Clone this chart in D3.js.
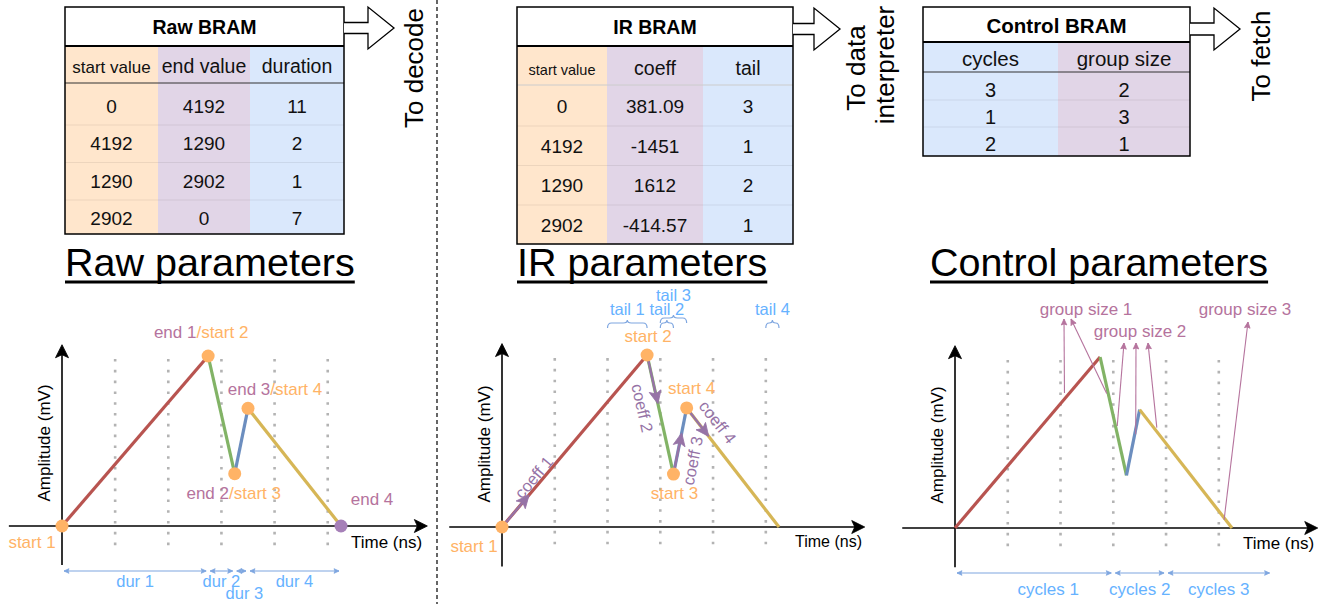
<!DOCTYPE html>
<html><head><meta charset="utf-8">
<script src="https://cdn.jsdelivr.net/npm/d3@7"></script>
<style>
body{margin:0;background:#fff}
svg{display:block;font-family:"Liberation Sans",Arial,Helvetica,sans-serif}
</style>
</head><body>
<svg id="c" width="1328" height="604"></svg>
<script>
// ---------------- data ----------------
const startValues = [0, 4192, 1290, 2902];
const endValues   = [4192, 1290, 2902, 0];
const durations   = [11, 2, 1, 7];
const coeffs      = [381.09, -1451, 1612, -414.57];
const tails       = [3, 1, 2, 1];
const cycles      = [3, 1, 2];
const groupSizes  = [2, 3, 1];
const samplesPerCycle = 4;
const gridCycles  = [1, 2, 3, 4, 5];
const rawHeaders  = ["start value", "end value", "duration"];
const irHeaders   = ["start value", "coeff", "tail"];
const ctrlHeaders = ["cycles", "group size"];
const groupPointerTimes = [[8.3, 11.5], [12.3, 13.7, 15.3], [20.4]];
const panelTitles = ["Raw parameters", "IR parameters", "Control parameters"];
const tableTitles = ["Raw BRAM", "IR BRAM", "Control BRAM"];
const exitLabels  = [["To decode"], ["To data", "interpreter"], ["To fetch"]];

// ---------------- style ----------------
const C = {
  red: "#b85450", green: "#82b366", blue: "#6c8ebf", yellow: "#d6b656",
  orange: "#FFB366", purpleText: "#B5739D", purpleDot: "#A680B8",
  coeff: "#9673A6", blueText: "#66B2FF", blueLine: "#7EA6E0",
  grid: "#B3B3B3", fillO: "#FFE6CC", fillP: "#E1D5E7", fillB: "#DAE8FC"
};
const segColors = [C.red, C.green, C.blue, C.yellow];

const svg = d3.select("#c");

// derived times
const t0 = [], t1 = [];
durations.reduce((acc, d, i) => { t0.push(acc); t1.push(acc + d); return acc + d; }, 0);
const totalTime = t1[t1.length - 1];
function ampAt(t) {
  for (let i = 0; i < durations.length; i++) {
    if (t <= t1[i]) return startValues[i] + (t - t0[i]) / durations[i] * (endValues[i] - startValues[i]);
  }
  return endValues[endValues.length - 1];
}

// ---------------- helpers ----------------
function head(g, tip, ang, len, hw, notch, color) {
  g.append("path")
    .attr("d", `M0,0 L${-len},${-hw} L${-len + notch},0 L${-len},${hw} Z`)
    .attr("transform", `translate(${tip[0]},${tip[1]}) rotate(${ang * 180 / Math.PI})`)
    .attr("fill", color).attr("stroke", color).attr("stroke-width", 0.8);
}
function dblArrow(g, xa, xb, y, color) {
  g.append("line").attr("x1", xa).attr("x2", xb).attr("y1", y).attr("y2", y)
    .attr("stroke", color).attr("stroke-width", 1.1);
  head(g, [xb, y], 0, 5, 2.3, 1, color);
  head(g, [xa, y], Math.PI, 5, 2.3, 1, color);
}

// ---------------- tables ----------------
function drawTable(cfg) {
  const g = svg.append("g");
  const xs = cfg.cols;
  const x0 = xs[0], x1 = xs[xs.length - 1];
  // column fills
  for (let c = 0; c < xs.length - 1; c++) {
    g.append("rect").attr("x", xs[c]).attr("y", cfg.titleBottom)
      .attr("width", xs[c + 1] - xs[c]).attr("height", cfg.bottom - cfg.titleBottom)
      .attr("fill", cfg.fills[c]);
  }
  // header line
  g.append("line").attr("x1", x0).attr("x2", x1).attr("y1", cfg.headerBottom).attr("y2", cfg.headerBottom)
    .attr("stroke", cfg.headerLine).attr("stroke-width", 1);
  // row separators
  cfg.rows.forEach((r, i) => {
    if (i === cfg.rows.length - 1) return;
    const yy = cfg.rowBase + i * cfg.rowStep + cfg.sepOff;
    g.append("line").attr("x1", x0).attr("x2", x1).attr("y1", yy).attr("y2", yy)
      .attr("stroke", "rgba(0,0,0,0.07)").attr("stroke-width", 1);
  });
  // title box
  g.append("rect").attr("x", x0).attr("y", cfg.top).attr("width", x1 - x0)
    .attr("height", cfg.titleBottom - cfg.top).attr("fill", "#fff");
  g.append("line").attr("x1", x0).attr("x2", x1).attr("y1", cfg.titleBottom).attr("y2", cfg.titleBottom)
    .attr("stroke", "#000").attr("stroke-width", 1.8);
  g.append("rect").attr("x", x0).attr("y", cfg.top).attr("width", x1 - x0)
    .attr("height", cfg.bottom - cfg.top).attr("fill", "none").attr("stroke", "#000").attr("stroke-width", 1.5);
  g.append("text").attr("x", (x0 + x1) / 2).attr("y", cfg.titleBase).attr("text-anchor", "middle")
    .attr("font-weight", "bold").attr("font-size", cfg.titleFont).text(cfg.title);
  cfg.headers.forEach((h, c) => {
    g.append("text").attr("x", (xs[c] + xs[c + 1]) / 2).attr("y", cfg.headerBase)
      .attr("text-anchor", "middle").attr("font-size", cfg.headerFonts[c]).attr("fill", "#111").text(h);
  });
  cfg.rows.forEach((r, i) => {
    r.forEach((v, c) => {
      g.append("text").attr("x", (xs[c] + xs[c + 1]) / 2).attr("y", cfg.rowBase + i * cfg.rowStep)
        .attr("text-anchor", "middle").attr("font-size", cfg.rowFont).attr("fill", "#111").text(String(v));
    });
  });
  // block arrow
  const a = cfg.arrow;
  const sy0 = a.cy - a.shaft / 2, sy1 = a.cy + a.shaft / 2;
  g.append("path")
    .attr("d", `M${x1},${sy0} L${a.hx},${sy0} L${a.hx},${a.cy - a.hh} L${a.tip},${a.cy} L${a.hx},${a.cy + a.hh} L${a.hx},${sy1} L${x1},${sy1}`)
    .attr("fill", "#fff").attr("stroke", "#000").attr("stroke-width", 1.3);
  // rotated exit labels
  cfg.exit.forEach((txt, k) => {
    g.append("text").attr("transform", `translate(${cfg.exitX[k]},${cfg.exitY[k]}) rotate(-90)`)
      .attr("text-anchor", "middle").attr("font-size", 26).attr("fill", "#000").text(txt);
  });
}

drawTable({
  cols: [65, 158, 250, 344], top: 7, titleBottom: 46, headerBottom: 83, bottom: 234,
  fills: [C.fillO, C.fillP, C.fillB], headerLine: "#333",
  title: tableTitles[0], titleFont: 19.5, titleBase: 34,
  headers: rawHeaders, headerFonts: [17, 19.5, 19.5], headerBase: 73,
  rows: startValues.map((s, i) => [s, endValues[i], durations[i]]),
  rowBase: 112.5, rowStep: 37.5, sepOff: 12.5, rowFont: 19,
  arrow: { cy: 28, shaft: 11, hx: 368, hh: 21, tip: 394 },
  exit: exitLabels[0], exitX: [423], exitY: [68]
});
drawTable({
  cols: [517, 607, 703, 793], top: 7, titleBottom: 46, headerBottom: 85, bottom: 244,
  fills: [C.fillO, C.fillP, C.fillB], headerLine: "#ccc",
  title: tableTitles[1], titleFont: 19.5, titleBase: 34,
  headers: irHeaders, headerFonts: [14.5, 19.5, 19.5], headerBase: 75,
  rows: startValues.map((s, i) => [s, coeffs[i], tails[i]]),
  rowBase: 113, rowStep: 39.5, sepOff: 13, rowFont: 19,
  arrow: { cy: 29, shaft: 11, hx: 814, hh: 21, tip: 840 },
  exit: exitLabels[1], exitX: [865, 894], exitY: [68, 65]
});
drawTable({
  cols: [923, 1058, 1190], top: 7, titleBottom: 42, headerBottom: 72, bottom: 156,
  fills: [C.fillB, C.fillP], headerLine: "#333",
  title: tableTitles[2], titleFont: 20.5, titleBase: 33,
  headers: ctrlHeaders, headerFonts: [20.5, 20.5], headerBase: 66,
  rows: cycles.map((c, i) => [c, groupSizes[i]]),
  rowBase: 96.5, rowStep: 27, sepOff: 3.5, rowFont: 20,
  arrow: { cy: 29, shaft: 12, hx: 1214, hh: 21, tip: 1240 },
  exit: exitLabels[2], exitX: [1270], exitY: [56]
});

// dashed separator
svg.append("line").attr("x1", 437).attr("x2", 437).attr("y1", 0).attr("y2", 604)
  .attr("stroke", "#000").attr("stroke-width", 1.2).attr("stroke-dasharray", "4,3");

// panel titles
const titleX = [65, 517, 930];
panelTitles.forEach((t, i) => {
  const tx = svg.append("text").attr("x", titleX[i]).attr("y", 276).attr("font-size", 39.5)
    .attr("fill", "#000").text(t);
  const w = tx.node().getComputedTextLength();
  svg.append("line").attr("x1", titleX[i]).attr("x2", titleX[i] + w).attr("y1", 282).attr("y2", 282)
    .attr("stroke", "#000").attr("stroke-width", 3);
});

// ---------------- chart panels ----------------
function panel(ox, oy, xEnd, peakPx, timeLabel) {
  const g = svg.append("g");
  const x = d3.scaleLinear().domain([0, totalTime]).range([ox, xEnd]);
  const y = d3.scaleLinear().domain([0, d3.max(startValues)]).range([oy, oy - peakPx]);
  // grid
  g.selectAll(".grid").data(gridCycles).enter().append("line")
    .attr("x1", d => x(d * samplesPerCycle)).attr("x2", d => x(d * samplesPerCycle))
    .attr("y1", y(4118)).attr("y2", y(-600))
    .attr("stroke", C.grid).attr("stroke-width", 2.6).attr("stroke-dasharray", "2.6,8.2");
  // axes
  g.append("line").attr("x1", x(-4)).attr("x2", x(27.5) - 6).attr("y1", y(0)).attr("y2", y(0))
    .attr("stroke", "#000").attr("stroke-width", 1.6);
  head(g, [x(27.5), y(0)], 0, 13, 6.5, 3, "#000");
  g.append("line").attr("x1", x(0)).attr("x2", x(0)).attr("y1", y(-960)).attr("y2", y(4470) + 6)
    .attr("stroke", "#000").attr("stroke-width", 1.6);
  head(g, [x(0), y(4470)], -Math.PI / 2, 13, 6.5, 3, "#000");
  g.append("text").attr("transform", `translate(${ox - 12},${oy - 83}) rotate(-90)`)
    .attr("text-anchor", "middle").attr("font-size", 17).text("Amplitude (mV)");
  g.append("text").attr("x", ox + timeLabel.dx).attr("y", oy + timeLabel.dy)
    .attr("font-size", timeLabel.size).text("Time (ns)");
  // signal segments
  const segs = startValues.map((s, i) => ({ i, p0: [x(t0[i]), y(s)], p1: [x(t1[i]), y(endValues[i])] }));
  g.selectAll(".seg").data(segs).enter().append("line")
    .attr("x1", d => d.p0[0]).attr("y1", d => d.p0[1]).attr("x2", d => d.p1[0]).attr("y2", d => d.p1[1])
    .attr("stroke", d => segColors[d.i]).attr("stroke-width", 3.2).attr("stroke-linecap", "butt");
  return { g, x, y, segs };
}

// ---- Panel 1: raw ----
const P1 = panel(62, 526, 341, 170, { dx: 289, dy: 22, size: 17 });
{
  const { g, x, y } = P1;
  const pts = startValues.map((s, i) => [x(t0[i]), y(s)]).concat([[x(totalTime), y(endValues[3])]]);
  pts.forEach((p, i) => g.append("circle").attr("cx", p[0]).attr("cy", p[1]).attr("r", 6.5)
    .attr("fill", i === pts.length - 1 ? C.purpleDot : C.orange));
  const lab = [
    { parts: [["start 1", C.orange]], dx: -30, dy: 22 },
    { parts: [["end 1", C.purpleText], ["/start 2", C.orange]], dx: -7, dy: -18 },
    { parts: [["end 2", C.purpleText], ["/start 3", C.orange]], dx: -1, dy: 25 },
    { parts: [["end 3", C.purpleText], ["/start 4", C.orange]], dx: 27, dy: -13 },
    { parts: [["end 4", C.purpleText]], dx: 31, dy: -21 }
  ];
  lab.forEach((l, i) => {
    const t = g.append("text").attr("x", pts[i][0] + l.dx).attr("y", pts[i][1] + l.dy)
      .attr("text-anchor", "middle").attr("font-size", 17);
    l.parts.forEach(p => t.append("tspan").attr("fill", p[1]).text(p[0]));
  });
  // durations
  durations.forEach((d, i) => {
    const xa = x(t0[i]) + 2, xb = x(t1[i]) - 2;
    dblArrow(g, xa, xb, 571, C.blueLine);
    const low = (i === 2);
    g.append("text").attr("x", (xa + xb) / 2 + (low ? 3 : 0)).attr("y", low ? 599 : 587)
      .attr("text-anchor", "middle").attr("font-size", 16.5).attr("fill", C.blueText).text("dur " + (i + 1));
  });
}

// ---- Panel 2: IR ----
const P2 = panel(502, 527, 779, 172, { dx: 293, dy: 20, size: 16 });
{
  const { g, x, y, segs } = P2;
  const coeffF = [0.26, 0.415, 0.25, 0.2];
  const coeffOff = [2, -22, -22, 10];
  const arrowLen = [42, 50, 42, 36];
  segs.forEach((s, i) => {
    const dx = s.p1[0] - s.p0[0], dy = s.p1[1] - s.p0[1];
    const L = Math.hypot(dx, dy), ang = Math.atan2(dy, dx);
    const u = [dx / L, dy / L], n = [Math.sin(ang), -Math.cos(ang)];
    const tip = [s.p0[0] + u[0] * arrowLen[i], s.p0[1] + u[1] * arrowLen[i]];
    g.append("line").attr("x1", s.p0[0]).attr("y1", s.p0[1]).attr("x2", tip[0] - u[0] * 8).attr("y2", tip[1] - u[1] * 8)
      .attr("stroke", C.coeff).attr("stroke-width", 2.4);
    head(g, tip, ang, 13, 6, 3, C.coeff);
    const c = [s.p0[0] + u[0] * coeffF[i] * L + n[0] * coeffOff[i], s.p0[1] + u[1] * coeffF[i] * L + n[1] * coeffOff[i]];
    g.append("text").attr("transform", `translate(${c[0]},${c[1]}) rotate(${ang * 180 / Math.PI})`)
      .attr("text-anchor", "middle").attr("font-size", 16.5).attr("fill", C.coeff).text("coeff " + (i + 1));
  });
  const pts = startValues.map((s, i) => [x(t0[i]), y(s)]);
  pts.forEach(p => g.append("circle").attr("cx", p[0]).attr("cy", p[1]).attr("r", 6.5).attr("fill", C.orange));
  const off = [[-28, 25], [1, -13], [1, 25], [5, -14]];
  pts.forEach((p, i) => g.append("text").attr("x", p[0] + off[i][0]).attr("y", p[1] + off[i][1])
    .attr("text-anchor", "middle").attr("font-size", 17).attr("fill", C.orange).text("start " + (i + 1)));
  // tails with braces
  tails.forEach((tl, i) => {
    const xa = x(t1[i] - tl), xb = x(t1[i]);
    const lvl = (i === 2) ? 1 : 0;
    const yb = 323 - lvl * 5;
    const m = (xa + xb) / 2;
    const r = Math.min(4, (xb - xa) / 4);
    g.append("path")
      .attr("d", `M${xa},${yb + 5} Q${xa},${yb} ${xa + r},${yb} L${m - r},${yb} Q${m},${yb} ${m},${yb - 3} Q${m},${yb} ${m + r},${yb} L${xb - r},${yb} Q${xb},${yb} ${xb},${yb + 5}`)
      .attr("fill", "none").attr("stroke", C.blueLine).attr("stroke-width", 1.2);
    g.append("text").attr("x", m).attr("y", lvl ? 301 : 315).attr("text-anchor", "middle")
      .attr("font-size", 16.5).attr("fill", C.blueText).text("tail " + (i + 1));
  });
}

// ---- Panel 3: control ----
const P3 = panel(955, 528, 1232, 171, { dx: 288, dy: 21, size: 17 });
{
  const { g, x, y } = P3;
  // cycles arrows
  let acc = 0;
  cycles.forEach((c, i) => {
    const xa = x(acc * samplesPerCycle) + 2, xb = x((acc + c) * samplesPerCycle) - 2;
    acc += c;
    dblArrow(g, xa, xb, 573, C.blueLine);
    g.append("text").attr("x", (xa + xb) / 2 + (i === 0 ? 14 : 0)).attr("y", 595).attr("text-anchor", "middle")
      .attr("font-size", 17).attr("fill", C.blueText).text("cycles " + (i + 1));
  });
  // group size pointers
  const labelPos = [[1086, 315], [1140, 337], [1245, 315]];
  const tipOff = [[[-22, 4], [-15, 4]], [[-16, 6], [-4, 6], [8, 6]], [[3, 7]]];
  const srcShift = [[-6, 7], [-8, 5, -4], [2]];
  groupSizes.forEach((gs, k) => {
    groupPointerTimes[k].forEach((t, j) => {
      const src = [x(t), y(ampAt(t)) + srcShift[k][j]];
      const tip = [labelPos[k][0] + tipOff[k][j][0], labelPos[k][1] + tipOff[k][j][1]];
      const ang = Math.atan2(tip[1] - src[1], tip[0] - src[0]);
      g.append("line").attr("x1", src[0]).attr("y1", src[1]).attr("x2", tip[0]).attr("y2", tip[1])
        .attr("stroke", C.purpleText).attr("stroke-width", 1.1);
      head(g, tip, ang, 6, 2.8, 1, C.purpleText);
    });
    g.append("text").attr("x", labelPos[k][0]).attr("y", labelPos[k][1]).attr("text-anchor", "middle")
      .attr("font-size", 17).attr("fill", C.purpleText).text("group size " + (k + 1));
  });
}
</script>
</body></html>
